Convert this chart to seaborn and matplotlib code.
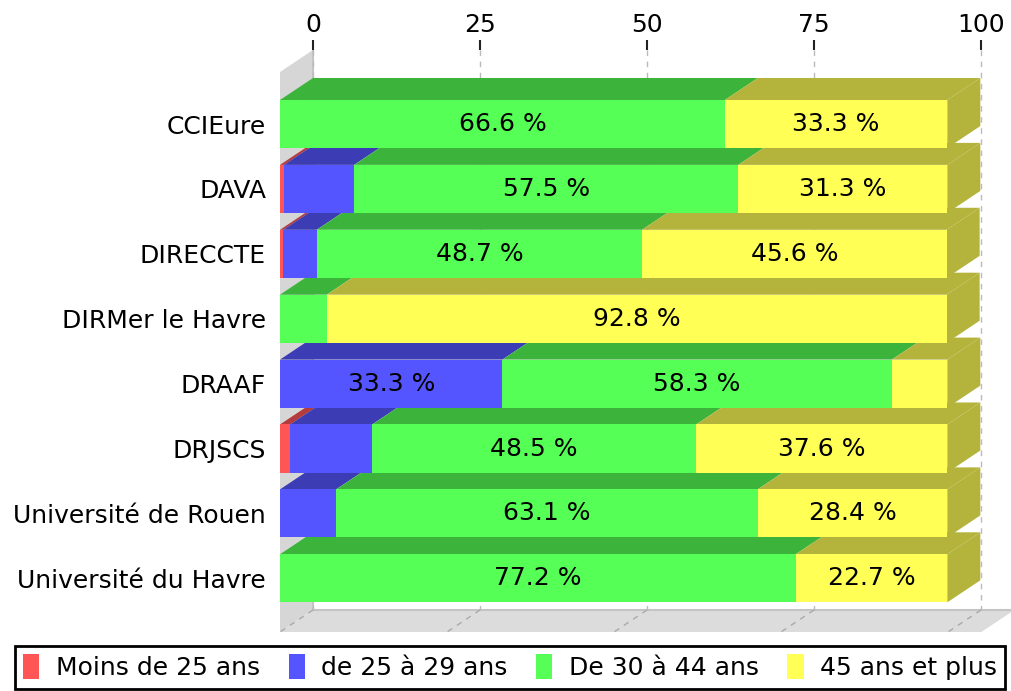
import numpy as np
import pandas as pd
import seaborn as sns
import matplotlib.pyplot as plt
from matplotlib.patches import Polygon, Patch

# Data
categories = ["CCIEure", "DAVA", "DIRECCTE", "DIRMer le Havre", "DRAAF",
              "DRJSCS", "Université de Rouen", "Université du Havre"]
series_names = ["Moins de 25 ans", "de 25 à 29 ans", "De 30 à 44 ans", "45 ans et plus"]
moins_25 = [0.0, 0.6, 0.5, 0.0, 0.0, 1.5, 0.0, 0.0]
de_25_29 = [0.0, 10.5, 5.0, 0.0, 33.3, 12.3, 8.4, 0.0]
de_30_44 = [66.6, 57.5, 48.7, 7.0, 58.3, 48.5, 63.1, 77.2]
plus_45 = [33.3, 31.3, 45.6, 92.8, 8.3, 37.6, 28.4, 22.7]
x_ticks = [0, 25, 50, 75, 100]

front_colors = ["#ff5555", "#5555ff", "#55ff55", "#ffff55"]
dark_colors = ["#b43c3c", "#3c3cb4", "#3cb43c", "#b4b43c"]

df = pd.DataFrame({"categorie": categories, series_names[0]: moins_25,
                   series_names[1]: de_25_29, series_names[2]: de_30_44,
                   series_names[3]: plus_45})
values = df[series_names].to_numpy()
cum = np.cumsum(values, axis=1)

sns.set_style("white")
plt.rcParams['font.family'] = ['DejaVu Sans']
plt.rcParams['text.color'] = 'black'
plt.rcParams['xtick.color'] = 'black'
plt.rcParams['ytick.color'] = 'black'

fig = plt.figure(figsize=(10.11, 6.91), dpi=100)
# axes placed in pixels: front plane 0 at x=280, 6.68 px per unit; 64.9 px per category
px_unit = 6.68
px_cat = 64.9
ax_left, ax_right, ax_top, ax_bot = 280, 1011, 50, 632
ax = fig.add_axes([ax_left / 1011, 1 - ax_bot / 691, (ax_right - ax_left) / 1011,
                   (ax_bot - ax_top) / 691])

DX = 33 / px_unit          # depth offset in value units
DY = 22 / px_cat           # depth offset in category units
bar_h = 0.74
y_top = (ax_top - 124) / px_cat
y_bot = (ax_bot - 124) / px_cat
y_floor_back = y_bot - DY
y_wall_front = y_top + DY

# wall and floor
ax.add_patch(Polygon([(0, y_wall_front), (DX, y_top), (DX, y_floor_back), (0, y_bot)],
                     closed=True, facecolor="#d6d6d6", edgecolor="none", zorder=1))
ax.add_patch(Polygon([(0, y_bot), (DX, y_floor_back), (105 + DX, y_floor_back), (105, y_bot)],
                     closed=True, facecolor="#dcdcdc", edgecolor="none", zorder=1))
ax.plot([DX, DX, 105 + DX], [y_top, y_floor_back, y_floor_back], color="#c4c4c4", lw=1.5, zorder=1.2)

# grid lines on back wall and floor
for t in x_ticks:
    ax.plot([t + DX, t + DX], [y_top, y_floor_back], color="#bbbbbb", lw=1,
            ls=(0, (4, 4)), zorder=1.5)
    ax.plot([t + DX, t], [y_floor_back, y_bot], color="#aaaaaa", lw=1,
            ls=(0, (4, 4)), zorder=1.5)

# 3D top and side faces
for i in range(len(categories)):
    yt = i - bar_h / 2
    yb = i + bar_h / 2
    left = 0
    last = 0
    for j in range(len(series_names)):
        v = values[i, j]
        if v <= 0:
            continue
        x0, x1 = left, left + v
        ax.add_patch(Polygon([(x0, yt), (x1, yt), (x1 + DX, yt - DY), (x0 + DX, yt - DY)],
                             closed=True, facecolor=dark_colors[j], edgecolor="none", zorder=2))
        left = x1
        last = j
    ax.add_patch(Polygon([(left, yt), (left + DX, yt - DY), (left + DX, yb - DY), (left, yb)],
                         closed=True, facecolor=dark_colors[last], edgecolor="none", zorder=2))

# front faces: layered cumulative bars
for j in range(len(series_names) - 1, -1, -1):
    sns.barplot(x=cum[:, j], y=df["categorie"], orient="h", color=front_colors[j],
                width=bar_h, saturation=1, ax=ax, zorder=3, linewidth=0)

# value labels
for i in range(len(categories)):
    for j in range(len(series_names)):
        v = values[i, j]
        if v >= 15:
            ax.text(cum[i, j] - v / 2, i, f"{v:.1f} %", ha="center", va="center",
                    fontsize=18, color="black", zorder=4)

ax.set_xlim(0, (ax_right - ax_left) / px_unit)
ax.set_ylim(y_bot, y_top)
ax.xaxis.tick_top()
ax.set_xticks([t + DX for t in x_ticks])
ax.set_xticklabels([str(t) for t in x_ticks])
ax.tick_params(axis="x", length=7, width=1.5, color="#222222", pad=2, labelsize=18,
               labelcolor="black")
ax.set_yticks(range(len(categories)))
ax.set_yticklabels(categories)
ax.tick_params(axis="y", length=0, pad=10, labelsize=18, labelcolor="black")
ax.set_xlabel("")
ax.set_ylabel("")
for s in ax.spines.values():
    s.set_visible(False)

# legend
handles = [Patch(facecolor=c, edgecolor="none") for c in front_colors]
leg = fig.legend(handles, series_names, loc="lower center", bbox_to_anchor=(0.5045, 0.0),
                 ncol=4, fontsize=18, frameon=True, fancybox=False, framealpha=1,
                 handlelength=0.65, handleheight=1.15, handletextpad=0.65,
                 columnspacing=1.15, borderpad=0.33, borderaxespad=0.1)
leg.get_frame().set_edgecolor("black")
leg.get_frame().set_linewidth(2)

fig.savefig("out.png", dpi=100)
